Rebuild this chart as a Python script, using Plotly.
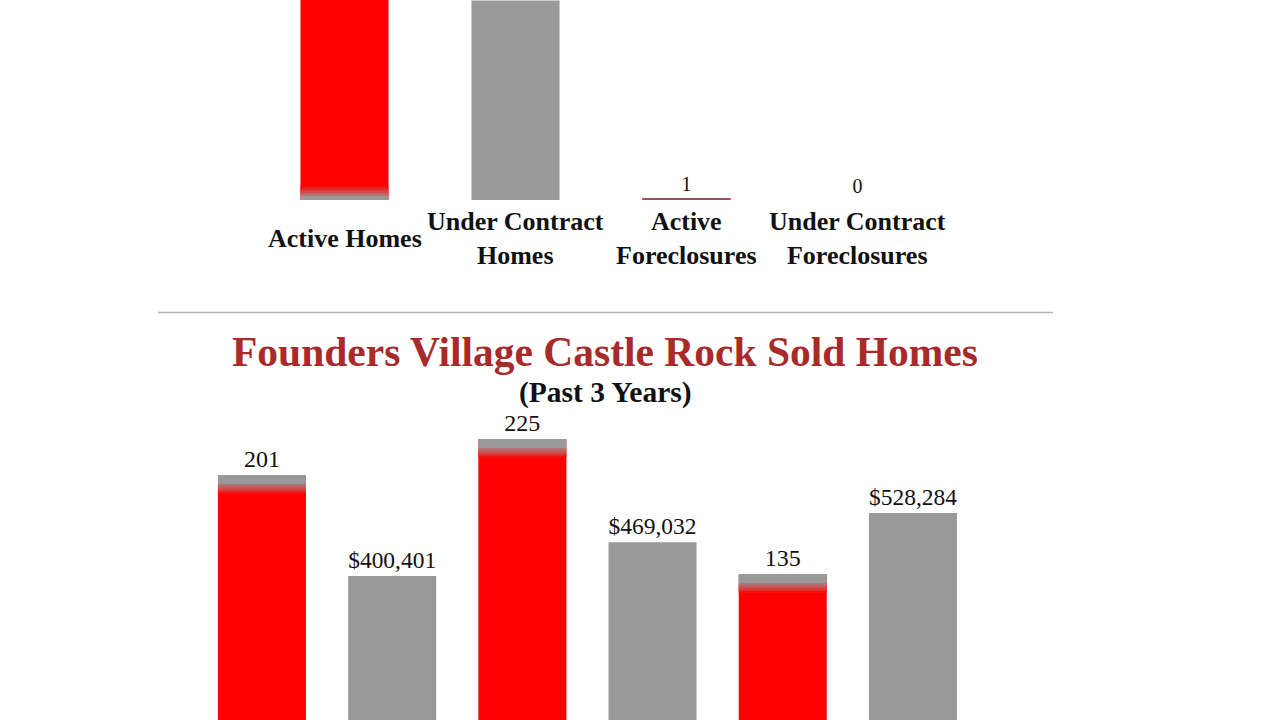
import plotly.graph_objects as go

# ---- data ----
listing_labels = ['Active Homes', 'Under Contract<br>Homes', 'Active<br>Foreclosures', 'Under Contract<br>Foreclosures']
listing_counts = [150, 133, 1, 0]
listing_colors = ['#ff0000', '#999999', '#ff0000', '#999999']

sold_years = ['Year 1', 'Year 2', 'Year 3']
sold_counts = [201, 225, 135]
sold_avg_price = [400401, 469032, 528284]

RED = '#ff0000'
GREY = '#999999'
FADE = ['#f21010', '#e52626', '#d83c3c', '#cc4d4d', '#bf6060', '#b27373']   # red -> grey blend
SERIF = 'Liberation Serif, Times New Roman, serif'

count_cats = [f'Homes Sold {y}' for y in sold_years]
price_cats = [f'Avg. Price {y}' for y in sold_years]
all_cats = [c for pair in zip(count_cats, price_cats) for c in pair]

fig = go.Figure()

#----------------------------------
# Top chart: current listings
#----------------------------------
fig.add_trace(go.Bar(
    x=listing_labels, y=listing_counts, marker=dict(color=listing_colors, line_width=0),
    text=listing_counts, textposition='outside', textfont=dict(family=SERIF, size=20, color='#111'),
    xaxis='x', yaxis='y', width=0.515, showlegend=False))

# grey shadow at the foot of the red active-homes bar
fig.add_trace(go.Bar(x=[listing_labels[0]], y=[3], base=[0], marker=dict(color=GREY, line_width=0),
                     xaxis='x', yaxis='y', width=0.515, showlegend=False))
for i, c in enumerate(reversed(FADE)):
    fig.add_trace(go.Bar(x=[listing_labels[0]], y=[1.1], base=[3 + i], marker=dict(color=c, line_width=0),
                         xaxis='x', yaxis='y', width=0.515, showlegend=False))
# the one-house foreclosure bar gets the grey cap too
fig.add_trace(go.Bar(x=[listing_labels[2]], y=[0.45], base=[listing_counts[2] - 0.45],
                     marker=dict(color='#a05050', line_width=0), xaxis='x', yaxis='y', width=0.515, showlegend=False))

#----------------------------------
# Bottom chart: sold homes
#----------------------------------
fig.add_trace(go.Bar(
    x=count_cats, y=sold_counts, marker=dict(color=RED, line_width=0),
    text=sold_counts, textposition='outside', textfont=dict(family=SERIF, size=24, color='#111'),
    cliponaxis=False, xaxis='x2', yaxis='y2', width=0.676, showlegend=False))

# grey cap fading into red at the top of each sold-count bar
n = len(FADE)
for i, c in enumerate(FADE):
    fig.add_trace(go.Bar(x=count_cats, y=[1.1] * 3, base=[v - 6 - (n - i) for v in sold_counts],
                         marker=dict(color=c, line_width=0), xaxis='x2', yaxis='y2', width=0.676, showlegend=False))
fig.add_trace(go.Bar(x=count_cats, y=[6] * 3, base=[v - 6 for v in sold_counts],
                     marker=dict(color=GREY, line_width=0), xaxis='x2', yaxis='y2', width=0.676, showlegend=False))

fig.add_trace(go.Bar(
    x=price_cats, y=sold_avg_price, marker=dict(color=GREY, line_width=0),
    texttemplate='$%{y:,}', textposition='outside', textfont=dict(family=SERIF, size=24, color='#111'),
    cliponaxis=False, xaxis='x2', yaxis='y3', width=0.676, showlegend=False))

def py(px):
    # pixel row -> paper fraction
    return (720 - px) / 720

fig.update_layout(
    width=1280, height=720, autosize=False,
    margin=dict(l=0, r=0, t=0, b=0),
    paper_bgcolor='white', plot_bgcolor='white',
    barmode='overlay',
    font=dict(family=SERIF),
    xaxis=dict(domain=[259 / 1280, 943 / 1280], range=[-0.5, 3.5], showticklabels=False, showgrid=False,
               zeroline=False, showline=False, fixedrange=True),
    yaxis=dict(domain=[py(200), 1], range=[0, 133.33], visible=False),
    xaxis2=dict(domain=[0.1538, 0.7641], range=[-0.5, 5.5], categoryorder='array', categoryarray=all_cats,
                showticklabels=False, showgrid=False, zeroline=False, showline=False),
    yaxis2=dict(domain=[0, py(405)], range=[37.67, 247.67], visible=False),
    yaxis3=dict(overlaying='y2', side='right', range=[108100, 747564], visible=False),
    shapes=[dict(type='line', xref='paper', yref='paper', x0=158 / 1280, x1=1053 / 1280,
                 y0=py(312.5), y1=py(312.5), line=dict(color='#b4b4b4', width=1.5))],
)

# category labels for the listing chart
for lab in listing_labels:
    fig.add_annotation(x=lab, xref='x', y=py(238), yref='paper', yanchor='middle', showarrow=False,
                       text=f'<b>{lab}</b>', font=dict(family=SERIF, size=26, color='#111'))

fig.add_annotation(x=605 / 1280, xref='paper', y=py(352), yref='paper', yanchor='middle', showarrow=False,
                   text='<b>Founders Village Castle Rock Sold Homes</b>',
                   font=dict(family=SERIF, size=41.5, color='#a82a2a'))
fig.add_annotation(x=605 / 1280, xref='paper', y=py(392), yref='paper', yanchor='middle', showarrow=False,
                   text='<b>(Past 3 Years)</b>', font=dict(family=SERIF, size=29.5, color='#111'))

# drop the default 8px page margin so the figure sits at the window corner
fig.write_html('out.html', config={'displayModeBar': False},
               post_script="document.body.style.margin='0px';")
